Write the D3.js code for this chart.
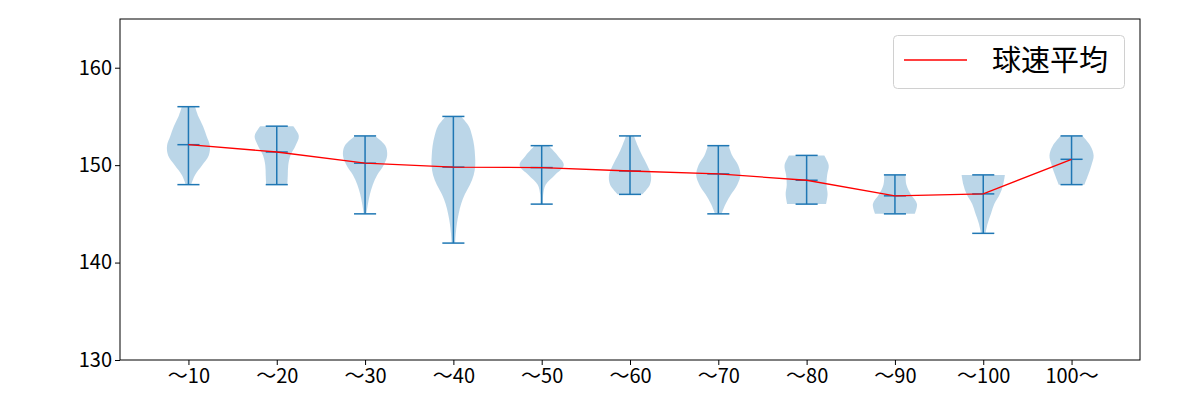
<!DOCTYPE html>
<html>
<head>
<meta charset="utf-8">
<script src="https://cdn.jsdelivr.net/npm/d3@7"></script>
<style>
  html, body { margin: 0; padding: 0; background: #fff; }
  svg { display: block; }
  text { font-family: "Noto Sans CJK JP", "Noto Sans", sans-serif; }
</style>
</head>
<body>
<div id="chart"></div>
<script>
// ---- data ----
const categories = ["〜10", "〜20", "〜30", "〜40", "〜50", "〜60", "〜70", "〜80", "〜90", "〜100", "100〜"];
const mins  = [148, 148, 145, 142, 146, 147, 145, 146, 145, 143, 148];
const maxs  = [156, 154, 153, 155, 152, 153, 152, 151, 149, 149, 153];
const means = [152.1, 151.35, 150.2, 149.8, 149.75, 149.4, 149.1, 148.45, 146.85, 147.05, 150.6];
// relative violin widths at each integer speed from min to max
const widths = [
  [0.12, 0.3, 0.62, 0.92, 0.97, 0.82, 0.66, 0.45, 0.3],
  [0.48, 0.5, 0.52, 0.62, 0.85, 1.0, 0.75],
  [0.06, 0.13, 0.22, 0.35, 0.55, 0.84, 1.0, 0.92, 0.45],
  [0.08, 0.11, 0.16, 0.24, 0.35, 0.52, 0.75, 0.92, 0.99, 0.98, 0.94, 0.85, 0.7, 0.35],
  [0.06, 0.07, 0.18, 0.6, 1.0, 0.72, 0.32],
  [0.55, 0.9, 0.95, 0.78, 0.55, 0.35, 0.18],
  [0.15, 0.33, 0.58, 0.86, 1.0, 0.9, 0.63, 0.47],
  [0.88, 0.95, 0.9, 0.93, 1.0, 0.8],
  [0.9, 1.0, 0.72, 0.52, 0.48],
  [0.1, 0.2, 0.35, 0.5, 0.75, 0.9, 0.98],
  [0.58, 0.75, 0.9, 1.0, 0.85, 0.5]
];
const yTicks = [130, 140, 150, 160];
const legendLabel = "球速平均";

// ---- layout ----
const W = 1200, H = 400;
const mLeft = 120, mRight = 1140, mTop = 19, mBottom = 360;

const svg = d3.select("#chart").append("svg").attr("width", W).attr("height", H);

const x = d3.scaleLinear().domain([0.225, 11.775]).range([mLeft, mRight]);
const y = d3.scaleLinear().domain([130, 165]).range([mBottom, mTop]);

const blue = "#1f77b4";
const halfW = 0.25, capW = 0.125;

// violins
const area = d3.area()
  .curve(d3.curveCatmullRom.alpha(0.5))
  .y(d => y(d.v))
  .x0(d => x(d.pos - halfW * d.w))
  .x1(d => x(d.pos + halfW * d.w));

categories.forEach((c, i) => {
  const pos = i + 1;
  const pts = widths[i].map((w, k) => ({ v: mins[i] + k, w: w, pos: pos }));
  svg.append("path").attr("d", area(pts))
    .attr("fill", blue).attr("fill-opacity", 0.3).attr("stroke", "none");
});

// violin lines
const g = svg.append("g").attr("stroke", blue).attr("stroke-width", 1.5).attr("fill", "none");
categories.forEach((c, i) => {
  const pos = i + 1;
  g.append("line").attr("x1", x(pos)).attr("x2", x(pos)).attr("y1", y(mins[i])).attr("y2", y(maxs[i]));
  [mins[i], maxs[i], means[i]].forEach(v => {
    g.append("line").attr("x1", x(pos - capW)).attr("x2", x(pos + capW)).attr("y1", y(v)).attr("y2", y(v));
  });
});

// mean line
svg.append("path")
  .datum(means)
  .attr("d", d3.line().x((d, i) => x(i + 1)).y(d => y(d)))
  .attr("fill", "none").attr("stroke", "red").attr("stroke-width", 1.3);

// axes
const xAxis = d3.axisBottom(x).tickValues(d3.range(1, categories.length + 1))
  .tickFormat(d => categories[d - 1]).tickSize(5).tickSizeOuter(0).tickPadding(4);
const yAxis = d3.axisLeft(y).tickValues(yTicks).tickSize(5).tickSizeOuter(0).tickPadding(3);

const gx = svg.append("g").attr("transform", `translate(0,${mBottom})`).call(xAxis);
const gy = svg.append("g").attr("transform", `translate(${mLeft},0)`).call(yAxis);
[gx, gy].forEach(a => {
  a.select(".domain").remove();
  a.selectAll(".tick line").attr("stroke", "#000").attr("stroke-width", 1);
  a.selectAll(".tick text").attr("fill", "#000").style("font-size", "20px")
    .style("font-family", "'Noto Sans CJK JP', sans-serif");
});

// frame
svg.append("rect").attr("x", mLeft).attr("y", mTop).attr("width", mRight - mLeft).attr("height", mBottom - mTop)
  .attr("fill", "none").attr("stroke", "#000").attr("stroke-width", 1);

// legend
const lg = svg.append("g");
lg.append("rect").attr("x", 893.5).attr("y", 35.5).attr("width", 231).attr("height", 53)
  .attr("rx", 4).attr("fill", "#fff").attr("fill-opacity", 0.8).attr("stroke", "#d0d0d0");
lg.append("line").attr("x1", 904).attr("x2", 967).attr("y1", 60).attr("y2", 60)
  .attr("stroke", "red").attr("stroke-width", 1.3);
lg.append("text").attr("x", 992).attr("y", 71).text(legendLabel)
  .style("font-size", "29px").attr("fill", "#000");
</script>
</body>
</html>
